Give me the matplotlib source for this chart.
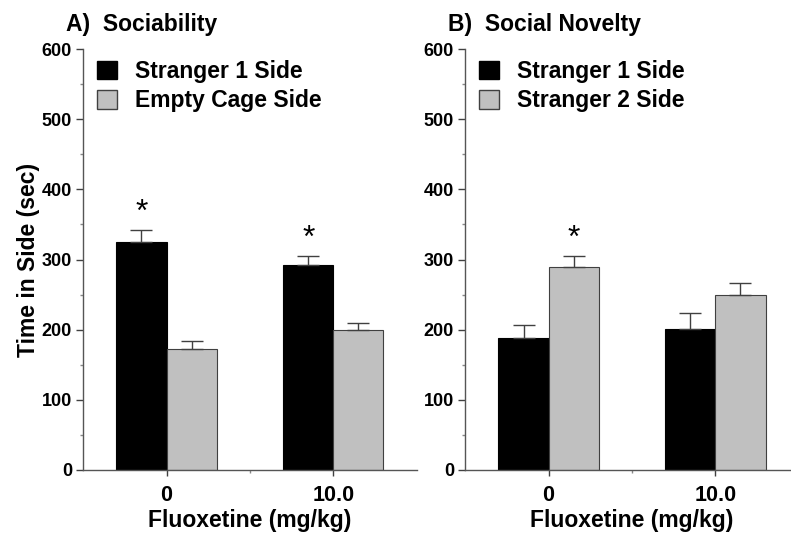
import numpy as np
import matplotlib
matplotlib.use("Agg")
import matplotlib.pyplot as plt
from matplotlib.patches import Patch
from matplotlib.ticker import MultipleLocator, FixedLocator

plt.rcParams["font.family"] = ["Liberation Sans", "DejaVu Sans"]
plt.rcParams["font.weight"] = "bold"

doses = ["0", "10.0"]

# panel A: sociability
soc_stranger1 = [325, 292]
soc_stranger1_err = [17, 13]
soc_empty = [172, 199]
soc_empty_err = [12, 11]

# panel B: social novelty
nov_stranger1 = [188, 201]
nov_stranger1_err = [18, 23]
nov_stranger2 = [290, 250]
nov_stranger2_err = [15, 17]

GRAY = "#c0c0c0"
EDGE = "#404040"


def draw_panel(ax, black, black_err, gray, gray_err, labels, stars, title):
    x = np.arange(len(doses))
    w = 0.3
    ax.bar(x - w / 2, black, w, color="black", edgecolor="black", linewidth=0.8)
    ax.bar(x + w / 2, gray, w, color=GRAY, edgecolor=EDGE, linewidth=0.8)
    ax.errorbar(x - w / 2, black, yerr=[np.zeros(len(black)), black_err], fmt="none",
                ecolor=EDGE, elinewidth=1, capsize=8, capthick=1)
    ax.errorbar(x + w / 2, gray, yerr=[np.zeros(len(gray)), gray_err], fmt="none",
                ecolor=EDGE, elinewidth=1, capsize=8, capthick=1)

    # significance stars
    for i, which in stars:
        if which == 0:
            xs, top = x[i] - w / 2, black[i] + black_err[i]
        else:
            xs, top = x[i] + w / 2, gray[i] + gray_err[i]
        ax.text(xs, top + 24, "*", ha="center", va="center", fontsize=23, fontweight="normal")

    ax.set_xlim(-0.5, 1.5)
    ax.set_ylim(0, 600)
    ax.set_xticks(x)
    ax.set_xticklabels(doses)
    ax.xaxis.set_minor_locator(FixedLocator([0.5]))
    ax.yaxis.set_major_locator(MultipleLocator(100))
    ax.yaxis.set_minor_locator(MultipleLocator(50))
    ax.tick_params(axis="y", labelsize=13, length=5, width=1, color=EDGE, pad=3)
    ax.tick_params(axis="x", labelsize=15.5, length=4, width=1, color=EDGE, pad=7)
    ax.tick_params(which="minor", length=2, width=1, color="#888888")
    for lab in ax.get_yticklabels() + ax.get_xticklabels():
        lab.set_fontweight("bold")
    for s in ["top", "right"]:
        ax.spines[s].set_visible(False)
    for s in ["left", "bottom"]:
        ax.spines[s].set_color("#555555")
        ax.spines[s].set_linewidth(1)
    ax.set_xlabel("Fluoxetine (mg/kg)", fontsize=16.5, fontweight="bold", labelpad=2)

    handles = [Patch(facecolor="black", edgecolor="black"),
               Patch(facecolor=GRAY, edgecolor=EDGE)]
    ax.legend(handles, labels, loc="upper left", bbox_to_anchor=(-0.005, 1.013),
              frameon=False, fontsize=16.5, handlelength=0.85, handleheight=0.85,
              handletextpad=0.8, labelspacing=0.3, borderaxespad=0.3)
    ax.set_title(title, fontsize=16.5, fontweight="bold", loc="left", x=-0.05, pad=13)


fig = plt.figure(figsize=(7.91, 5.38), dpi=100)
ax1 = fig.add_axes([0.105, 0.1264, 0.422, 0.7825])
ax2 = fig.add_axes([0.588, 0.1264, 0.422, 0.7825])

draw_panel(ax1, soc_stranger1, soc_stranger1_err, soc_empty, soc_empty_err,
           ["Stranger 1 Side", "Empty Cage Side"], [(0, 0), (1, 0)], "A)  Sociability")
draw_panel(ax2, nov_stranger1, nov_stranger1_err, nov_stranger2, nov_stranger2_err,
           ["Stranger 1 Side", "Stranger 2 Side"], [(0, 1)], "B)  Social Novelty")

ax1.set_ylabel("Time in Side (sec)", fontsize=16.5, fontweight="bold", labelpad=1)

fig.savefig("out.png", dpi=100)
